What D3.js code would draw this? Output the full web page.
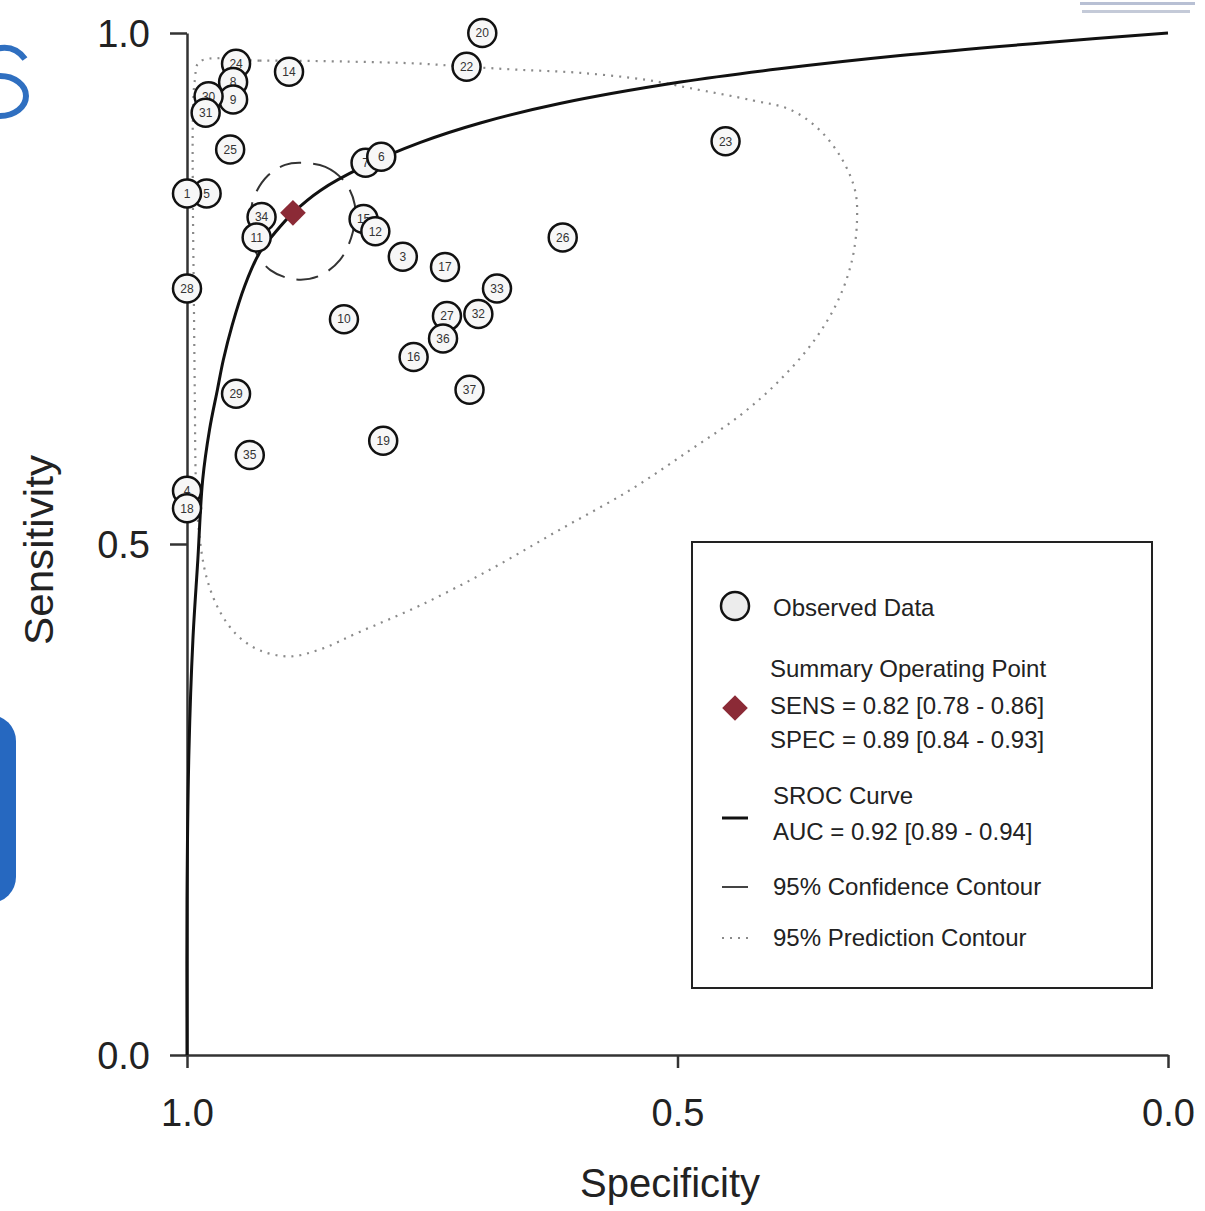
<!DOCTYPE html>
<html>
<head>
<meta charset="utf-8">
<script src="https://cdn.jsdelivr.net/npm/d3@7"></script>
<style>
  body { margin: 0; background: #fff; }
  svg { display: block; font-family: "Liberation Sans", Arial, sans-serif; }
</style>
</head>
<body>
<div id="chart"></div>
<script>
// study estimates: [label, specificity, sensitivity]
const studies = [
  ["20", 0.699, 1.000], ["22", 0.715, 0.967], ["14", 0.896, 0.962], ["23", 0.451, 0.894],
  ["24", 0.950, 0.970], ["8", 0.953, 0.952], ["9", 0.953, 0.935], ["30", 0.978, 0.938],
  ["31", 0.981, 0.922], ["25", 0.956, 0.886], ["5", 0.980, 0.843], ["1", 1.000, 0.843],
  ["7", 0.818, 0.873], ["6", 0.802, 0.879], ["34", 0.924, 0.820], ["11", 0.929, 0.800],
  ["15", 0.820, 0.818], ["12", 0.808, 0.806], ["3", 0.780, 0.781], ["17", 0.737, 0.771],
  ["26", 0.617, 0.800], ["33", 0.684, 0.750], ["27", 0.735, 0.723], ["32", 0.703, 0.725],
  ["36", 0.739, 0.701], ["16", 0.769, 0.683], ["10", 0.840, 0.720], ["37", 0.712, 0.651],
  ["19", 0.800, 0.601], ["28", 1.000, 0.750], ["29", 0.950, 0.647], ["35", 0.936, 0.587],
  ["4", 1.000, 0.552], ["18", 1.000, 0.535]
];

const summaryPoint = [0.892, 0.824];

const srocCurve = [
  [1.000, 0.000], [1.000, 0.152], [0.998, 0.298], [0.994, 0.406], [0.989, 0.484],
  [0.984, 0.563], [0.977, 0.612], [0.969, 0.651], [0.963, 0.680], [0.954, 0.714],
  [0.941, 0.753], [0.926, 0.785], [0.910, 0.805], [0.892, 0.824], [0.864, 0.846],
  [0.821, 0.869], [0.762, 0.893], [0.701, 0.912], [0.620, 0.931], [0.497, 0.952],
  [0.396, 0.965], [0.273, 0.978], [0.120, 0.991], [0.000, 1.000]
];

const confContour = [
  [0.885, 0.873], [0.859, 0.869], [0.839, 0.854], [0.829, 0.832], [0.831, 0.805],
  [0.844, 0.778], [0.866, 0.762], [0.890, 0.759], [0.915, 0.768], [0.931, 0.788],
  [0.936, 0.815], [0.931, 0.841], [0.917, 0.861], [0.900, 0.871]
];

const predContour = [
  [0.987, 0.972], [0.926, 0.973], [0.834, 0.972], [0.762, 0.970], [0.715, 0.967],
  [0.661, 0.964], [0.599, 0.961], [0.531, 0.954], [0.487, 0.946], [0.423, 0.934],
  [0.385, 0.925], [0.355, 0.905], [0.332, 0.876], [0.319, 0.846], [0.317, 0.817],
  [0.322, 0.778], [0.336, 0.739], [0.360, 0.700], [0.396, 0.660], [0.436, 0.626],
  [0.487, 0.592], [0.548, 0.553], [0.620, 0.514], [0.691, 0.475], [0.762, 0.440],
  [0.824, 0.414], [0.864, 0.397], [0.895, 0.390], [0.926, 0.396], [0.948, 0.410],
  [0.966, 0.433], [0.980, 0.467], [0.988, 0.514], [0.991, 0.563], [0.992, 0.641],
  [0.993, 0.739], [0.994, 0.837], [0.994, 0.915], [0.992, 0.954]
];

const axisTicks = [0, 0.5, 1];

const legendLines = [
  "Observed Data",
  "Summary Operating Point", "SENS = 0.82 [0.78 - 0.86]", "SPEC = 0.89 [0.84 - 0.93]",
  "SROC Curve", "AUC = 0.92 [0.89 - 0.94]",
  "95% Confidence Contour", "95% Prediction Contour"
];

const W = 1205, H = 1211;
const svg = d3.select("#chart").append("svg").attr("width", W).attr("height", H);

// bits of the surrounding page that were cropped into the picture
svg.append("path").attr("d", "M -4,49 Q 14,44 25,59 M 0,76 A 26 20 0 0 1 0 116")
  .attr("fill", "none").attr("stroke", "#2f6fc0").attr("stroke-width", 6);
svg.append("rect").attr("x", -40).attr("y", 715).attr("width", 56).attr("height", 188)
  .attr("rx", 26).attr("fill", "#2668c0");
svg.append("rect").attr("x", 1080).attr("y", 2).attr("width", 115).attr("height", 3).attr("fill", "#b8c0d4");
svg.append("rect").attr("x", 1082).attr("y", 10).attr("width", 108).attr("height", 3).attr("fill", "#c4cad8");

const x = d3.scaleLinear().domain([1, 0]).range([187, 1168]);
const y = d3.scaleLinear().domain([0, 1]).range([1055, 33]);

// axes
const yAxis = svg.append("g").attr("transform", `translate(${x(1)},0)`)
  .call(d3.axisLeft(y).tickValues(axisTicks).tickFormat(d3.format(".1f"))
    .tickSize(17).tickSizeOuter(0).tickPadding(20));
const xAxis = svg.append("g").attr("transform", `translate(0,${y(0)})`)
  .call(d3.axisBottom(x).tickValues(axisTicks).tickFormat(d3.format(".1f"))
    .tickSize(13).tickSizeOuter(0).tickPadding(31));
[xAxis, yAxis].forEach(g => {
  g.select(".domain").attr("stroke", "#333").attr("stroke-width", 2.5);
  g.selectAll(".tick line").attr("stroke", "#333").attr("stroke-width", 2.5);
  g.selectAll(".tick text").attr("font-size", 38).attr("fill", "#222")
    .attr("font-family", "Liberation Sans, Arial, sans-serif");
});
yAxis.selectAll(".tick text").attr("dy", "0.36em");

svg.append("text").attr("x", 670).attr("y", 1197).attr("text-anchor", "middle")
  .attr("font-size", 40).attr("fill", "#222").attr("textLength", 180)
  .attr("lengthAdjust", "spacingAndGlyphs").text("Specificity");
svg.append("text").attr("transform", "translate(53,550) rotate(-90)")
  .attr("text-anchor", "middle").attr("font-size", 40).attr("fill", "#222")
  .attr("textLength", 190).attr("lengthAdjust", "spacingAndGlyphs").text("Sensitivity");

// contours and curve
const line = d3.line().x(d => x(d[0])).y(d => y(d[1]));

svg.append("path")
  .attr("d", line.curve(d3.curveCatmullRomClosed.alpha(0.5))(predContour))
  .attr("fill", "none").attr("stroke", "#8a8a8a").attr("stroke-width", 2.2)
  .attr("stroke-dasharray", "2,6");

svg.append("path")
  .attr("d", line.curve(d3.curveCatmullRomClosed.alpha(0.5))(confContour))
  .attr("fill", "none").attr("stroke", "#333").attr("stroke-width", 2)
  .attr("stroke-dasharray", "22,12");

svg.append("path")
  .attr("d", line.curve(d3.curveCatmullRom.alpha(0.5))(srocCurve))
  .attr("fill", "none").attr("stroke", "#111").attr("stroke-width", 3);

// observed studies
const pts = svg.append("g").selectAll("g").data(studies).join("g")
  .attr("transform", d => `translate(${x(d[1])},${y(d[2])})`);
pts.append("circle").attr("r", 14).attr("fill", "#f7f7f7")
  .attr("stroke", "#111").attr("stroke-width", 2.5);
pts.append("text").attr("text-anchor", "middle").attr("dy", "0.36em")
  .attr("font-size", 12).attr("fill", "#333").text(d => d[0]);

// summary operating point
svg.append("path").attr("d", d3.symbol(d3.symbolDiamond2, 420)())
  .attr("transform", `translate(${x(summaryPoint[0])},${y(summaryPoint[1])})`)
  .attr("fill", "#8b2a36");

// legend
const lg = svg.append("g");
lg.append("rect").attr("x", 692).attr("y", 542).attr("width", 460).attr("height", 446)
  .attr("fill", "#fff").attr("stroke", "#222").attr("stroke-width", 2);
lg.append("circle").attr("cx", 735).attr("cy", 606).attr("r", 14)
  .attr("fill", "#ececec").attr("stroke", "#111").attr("stroke-width", 2.5);
lg.append("path").attr("d", d3.symbol(d3.symbolDiamond2, 420)())
  .attr("transform", "translate(735,708)").attr("fill", "#8b2a36");
lg.append("line").attr("x1", 722).attr("x2", 748).attr("y1", 818).attr("y2", 818)
  .attr("stroke", "#111").attr("stroke-width", 3);
lg.append("line").attr("x1", 722).attr("x2", 748).attr("y1", 887).attr("y2", 887)
  .attr("stroke", "#444").attr("stroke-width", 2);
lg.append("line").attr("x1", 722).attr("x2", 748).attr("y1", 938).attr("y2", 938)
  .attr("stroke", "#8a8a8a").attr("stroke-width", 2.2).attr("stroke-dasharray", "2,6");

const legendY = [607, 668, 705, 739, 795, 831, 886, 937];
const legendX = [773, 770, 770, 770, 773, 773, 773, 773];
lg.selectAll("text.item").data(legendLines).join("text").attr("class", "item")
  .attr("x", (d, i) => legendX[i]).attr("y", (d, i) => legendY[i]).attr("dy", "0.36em")
  .attr("font-size", 24).attr("fill", "#222").text(d => d);
</script>
</body>
</html>
